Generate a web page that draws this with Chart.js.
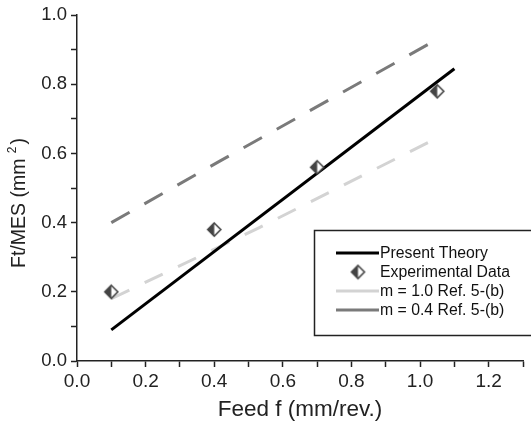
<!DOCTYPE html>
<html>
<head>
<meta charset="utf-8">
<script src="https://cdn.jsdelivr.net/npm/chart.js@4/dist/chart.umd.min.js"></script>
<style>
  html, body { margin: 0; padding: 0; background: #fff; }
  #wrap { width: 531px; height: 427px; }
</style>
</head>
<body>
<div id="wrap"><canvas id="grafico"></canvas></div>
<script>
// valores
const teoriaX = [0.1, 1.1];
const teoriaY = [0.09, 0.845];
const expX = [0.1, 0.4, 0.7, 1.05];
const expY = [0.20, 0.38, 0.56, 0.78];
const m10X = [0.1, 0.53, 1.05];
const m10Y = [0.18, 0.385, 0.645];
const m04X = [0.1, 0.42, 1.05];
const m04Y = [0.40, 0.58, 0.93];
const legendas = ['Present Theory', 'Experimental Data', 'm = 1.0 Ref. 5-(b)', 'm = 0.4 Ref. 5-(b)'];

const pares = (xs, ys) => xs.map((x, i) => ({ x: x, y: ys[i] }));
const fonte = '"Liberation Sans", Arial, Helvetica, sans-serif';

// marcador losango meio preenchido
function losango(tam) {
  const c = document.createElement('canvas');
  c.width = tam + 4; c.height = tam + 4;
  const g = c.getContext('2d');
  const m = (tam + 4) / 2, r = tam / 2;
  g.beginPath();
  g.moveTo(m, m - r); g.lineTo(m + r, m); g.lineTo(m, m + r); g.lineTo(m - r, m); g.closePath();
  g.fillStyle = '#fff'; g.fill();
  g.beginPath();
  g.moveTo(m, m - r); g.lineTo(m, m + r); g.lineTo(m - r, m); g.closePath();
  g.fillStyle = '#444'; g.fill();
  g.beginPath();
  g.moveTo(m, m - r); g.lineTo(m + r, m); g.lineTo(m, m + r); g.lineTo(m - r, m); g.closePath();
  g.strokeStyle = '#444'; g.lineWidth = 1.6; g.stroke();
  return c;
}
const marcador = losango(13);

const legendaCaixa = {
  id: 'legendaCaixa',
  afterDraw(chart) {
    const ctx = chart.ctx;
    ctx.save();
    ctx.strokeStyle = '#222';
    ctx.lineWidth = 1.5;
    ctx.strokeRect(314.5, 230.5, 230, 105);
    ctx.font = '15.8px ' + fonte;
    ctx.fillStyle = '#111';
    ctx.textBaseline = 'middle';
    const linhas = [253, 272, 291, 310];
    const ds = chart.data.datasets;
    ds.forEach((d, i) => {
      const y = linhas[i];
      if (d.showLine) {
        ctx.strokeStyle = d.borderColor;
        ctx.lineWidth = 3;
        ctx.setLineDash([]);
        ctx.beginPath(); ctx.moveTo(336, y); ctx.lineTo(379, y); ctx.stroke();
      } else {
        ctx.drawImage(marcador, 358 - marcador.width / 2, y - marcador.height / 2);
      }
      ctx.fillText(d.label, 380, y + 1);
    });

    // título do eixo y com expoente
    ctx.translate(19, 203);
    ctx.rotate(-Math.PI / 2);
    ctx.fillStyle = '#222';
    const grande = '19.5px ' + fonte, pequeno = '12px ' + fonte;
    const p1 = 'Ft/MES (mm ', p2 = '2', p3 = ')';
    ctx.font = grande; const w1 = ctx.measureText(p1).width, w3 = ctx.measureText(p3).width;
    ctx.font = pequeno; const w2 = ctx.measureText(p2).width + 2;
    let x = -(w1 + w2 + w3) / 2;
    ctx.textBaseline = 'middle';
    ctx.font = grande; ctx.fillText(p1, x, 1); x += w1;
    ctx.font = pequeno; ctx.fillText(p2, x, -6); x += w2;
    ctx.font = grande; ctx.fillText(p3, x, 1);
    ctx.restore();
  }
};

new Chart(document.getElementById('grafico'), {
  type: 'scatter',
  data: {
    datasets: [
      {
        label: legendas[0],
        data: pares(teoriaX, teoriaY),
        showLine: true,
        borderColor: '#000',
        borderWidth: 3,
        pointRadius: 0,
        order: 1
      },
      {
        label: legendas[1],
        data: pares(expX, expY),
        showLine: false,
        pointStyle: marcador,
        pointRadius: 7,
        order: 0
      },
      {
        label: legendas[2],
        data: pares(m10X, m10Y),
        showLine: true,
        borderColor: '#d3d3d3',
        borderWidth: 3,
        borderDash: [20, 17],
        pointRadius: 0,
        order: 3
      },
      {
        label: legendas[3],
        data: pares(m04X, m04Y),
        showLine: true,
        borderColor: '#7a7a7a',
        borderWidth: 3,
        borderDash: [21, 17],
        pointRadius: 0,
        order: 2
      }
    ]
  },
  options: {
    responsive: true,
    maintainAspectRatio: false,
    animation: false,
    layout: { padding: { top: 15, right: 0, left: 0, bottom: 0 } },
    plugins: {
      legend: { display: false },
      tooltip: { enabled: false }
    },
    scales: {
      x: {
        type: 'linear',
        min: 0,
        max: 1.3,
        afterFit: (s) => { s.height = 66; },
        border: { display: true, color: '#222', width: 1.5 },
        grid: { drawOnChartArea: false, drawTicks: true, tickLength: 6, tickColor: '#222', tickWidth: 1.5 },
        ticks: {
          stepSize: 0.1,
          padding: 3,
          color: '#222',
          font: { family: fonte, size: 19 },
          maxRotation: 0,
          autoSkip: false,
          callback: function(v) {
            const k = Math.round(v * 10);
            return k % 2 === 0 ? (k / 10).toFixed(1) : '';
          }
        },
        title: {
          display: true,
          text: 'Feed f (mm/rev.)',
          color: '#222',
          font: { family: fonte, size: 22.5 },
          padding: { top: 0, bottom: 4 }
        }
      },
      y: {
        type: 'linear',
        min: 0,
        max: 1.0,
        afterFit: (s) => { s.width = 77; },
        border: { display: true, color: '#222', width: 1.5 },
        grid: { drawOnChartArea: false, drawTicks: true, tickLength: 6, tickColor: '#222', tickWidth: 1.5 },
        ticks: {
          stepSize: 0.1,
          padding: 4,
          color: '#222',
          font: { family: fonte, size: 18.5 },
          autoSkip: false,
          callback: function(v) {
            const k = Math.round(v * 10);
            return k % 2 === 0 ? (k / 10).toFixed(1) : '';
          }
        },
        title: { display: false }
      }
    }
  },
  plugins: [legendaCaixa]
});
</script>
</body>
</html>
